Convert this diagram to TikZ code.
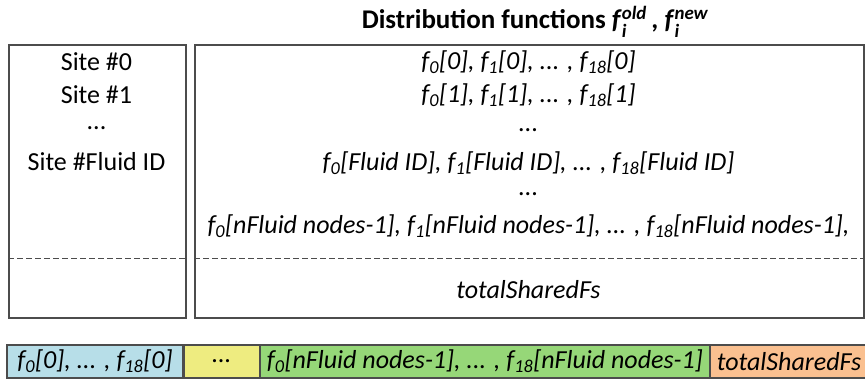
\documentclass[tikz,border=0pt]{standalone}
\usepackage{amsmath}
\usepackage{fontspec}
\setmainfont{Carlito}
\usetikzlibrary{positioning}

\newcommand{\fsub}[1]{\textit{f}\textsubscript{#1}}
\newcommand{\fold}[1]{\textit{f}$^{\textit{#1}}_{\textit{i}}$}

\definecolor{cellblue}{RGB}{183,222,232}
\definecolor{cellyellow}{RGB}{238,236,128}
\definecolor{cellgreen}{RGB}{150,215,120}
\definecolor{cellorange}{RGB}{250,192,144}

\begin{document}
\begin{tikzpicture}[x=1pt,y=-1pt,
  box/.style={draw=black!70, line width=1.5pt, inner sep=0pt, anchor=north west},
  sep/.style={draw=black!70, line width=1pt, dash pattern=on 6pt off 3pt},
  txt/.style={font=\fontsize{26}{30}\selectfont\itshape, inner sep=0pt},
  stxt/.style={font=\fontsize{26}{30}\selectfont, inner sep=0pt},
  cell/.style={draw=black!70, line width=1.2pt, minimum height=33pt, inner sep=0pt,
    font=\fontsize{26}{30}\selectfont\itshape}]
  \useasboundingbox (0,0) rectangle (865,380);

  % title
  \node[font=\fontsize{27}{30}\selectfont\bfseries, inner sep=0pt] (title) at (535,22)
    {Distribution functions \fold{old}\,, \fold{new}};

  % the two tables
  \node[box, minimum width=177pt, minimum height=273pt] (sites) at (8,44) {};
  \node[box, minimum width=669pt, minimum height=273pt] (funcs) at (194,44) {};
  \coordinate (cut) at (0,258);
  \draw[sep] (sites.west |- cut) -- (sites.east |- cut);
  \draw[sep] (funcs.west |- cut) -- (funcs.east |- cut);

  % sites
  \node[stxt] (s0) at (96.5,62) {Site \#0};
  \node[stxt] (s1) at (96.5,95) {Site \#1};
  \node[stxt] (sd) at (96.5,128) {...};
  \node[stxt] (sid) at (96.5,162) {Site \#Fluid ID};

  % distribution functions
  \node[txt] (f0) at (528.5,62) {\fsub{0}[0], \fsub{1}[0], ... , \fsub{18}[0]};
  \node[txt] (f1) at (528.5,95) {\fsub{0}[1], \fsub{1}[1], ... , \fsub{18}[1]};
  \node[txt] (fd) at (528.5,130) {...};
  \node[txt] (fid) at (528.5,163) {\fsub{0}[Fluid ID], \fsub{1}[Fluid ID], ... , \fsub{18}[Fluid ID]};
  \node[txt] (fd2) at (528.5,194) {...};
  \node[txt] (fn) at (528.5,226) {\fsub{0}[nFluid nodes-1], \fsub{1}[nFluid nodes-1], ... , \fsub{18}[nFluid nodes-1],};
  \node[txt] (shared) at (528.5,290) {totalSharedFs};

  % memory layout
  \node[cell, fill=cellblue, minimum width=176pt] (c0) at (95,361.5) {\fsub{0}[0], ... , \fsub{18}[0]};
  \node[cell, fill=cellyellow, minimum width=75pt, right=0pt of c0] (c1) {...};
  \node[cell, fill=cellgreen, minimum width=449pt, right=0pt of c1] (c2)
    {\fsub{0}[nFluid nodes-1], ... , \fsub{18}[nFluid nodes-1]};
  \node[cell, fill=cellorange, minimum width=157pt, right=0pt of c2] (c3) {totalSharedFs};
\end{tikzpicture}
\end{document}
